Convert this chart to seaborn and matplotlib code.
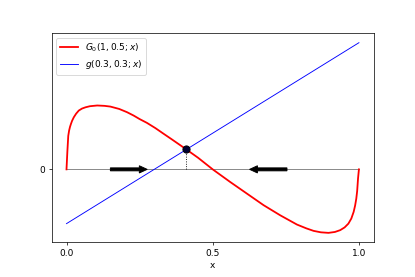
import matplotlib
matplotlib.use("Agg")
import matplotlib.pyplot as plt
import seaborn as sns

# red curve G0(1, 0.5; x)
G0_x = [0.0, 0.003, 0.006, 0.009, 0.012, 0.015, 0.019, 0.025, 0.033, 0.042,
        0.053, 0.065, 0.08, 0.105, 0.13, 0.15, 0.18, 0.207, 0.23, 0.25, 0.275,
        0.304, 0.33, 0.36, 0.41, 0.45, 0.5, 0.56, 0.617, 0.674, 0.731, 0.788,
        0.82, 0.845, 0.87, 0.896, 0.918, 0.936, 0.951, 0.964, 0.974, 0.982,
        0.987, 0.991, 0.994, 0.997, 1.0]
G0_y = [0.0, 0.1, 0.185, 0.215, 0.235, 0.25, 0.268, 0.288, 0.308, 0.325,
        0.336, 0.343, 0.349, 0.353, 0.351, 0.347, 0.334, 0.316, 0.297, 0.278,
        0.257, 0.228, 0.199, 0.166, 0.11, 0.064, 0.0, -0.07, -0.134, -0.198,
        -0.254, -0.305, -0.326, -0.34, -0.348, -0.351, -0.346, -0.336, -0.321,
        -0.3, -0.272, -0.235, -0.2, -0.162, -0.12, -0.05, 0.0]

# blue line g(0.3, 0.3; x)
g_x = [0.0, 1.0]
g_y = [-0.3, 0.7]

# fixed point and flow arrows (start, end)
x_star = 0.41
y_star = 0.11
arrow_right = (0.15, 0.276)
arrow_left = (0.754, 0.626)

fig, ax = plt.subplots(figsize=(6.4, 4.272), dpi=64.85)
fig.subplots_adjust(left=0.125, right=0.9, top=0.88, bottom=0.125)

ax.plot([0, 1], [0, 0], color="gray", lw=1, zorder=1)
sns.lineplot(x=G0_x, y=G0_y, ax=ax, color="red", lw=2, sort=False,
             estimator=None, label=r"$G_0(1, 0.5; x)$", zorder=2)
sns.lineplot(x=g_x, y=g_y, ax=ax, color="blue", lw=1, sort=False,
             estimator=None, label=r"$g(0.3, 0.3; x)$", zorder=2)

ax.plot([x_star, x_star], [0, y_star], color="k", ls=":", lw=1, zorder=3)
ax.plot([x_star], [y_star], "o", ms=8, color="#000033", mec="k", zorder=4)

for x0, x1 in (arrow_right, arrow_left):
    ax.arrow(x0, 0, x1 - x0, 0, width=0.0165, head_width=0.04,
             head_length=0.027, length_includes_head=True, color="k", zorder=3)

ax.set_xticks([0.0, 0.5, 1.0])
ax.set_yticks([0])
ax.set_xlabel("x")
ax.legend(loc="upper left")

fig.savefig("out.png", dpi=64.85)
